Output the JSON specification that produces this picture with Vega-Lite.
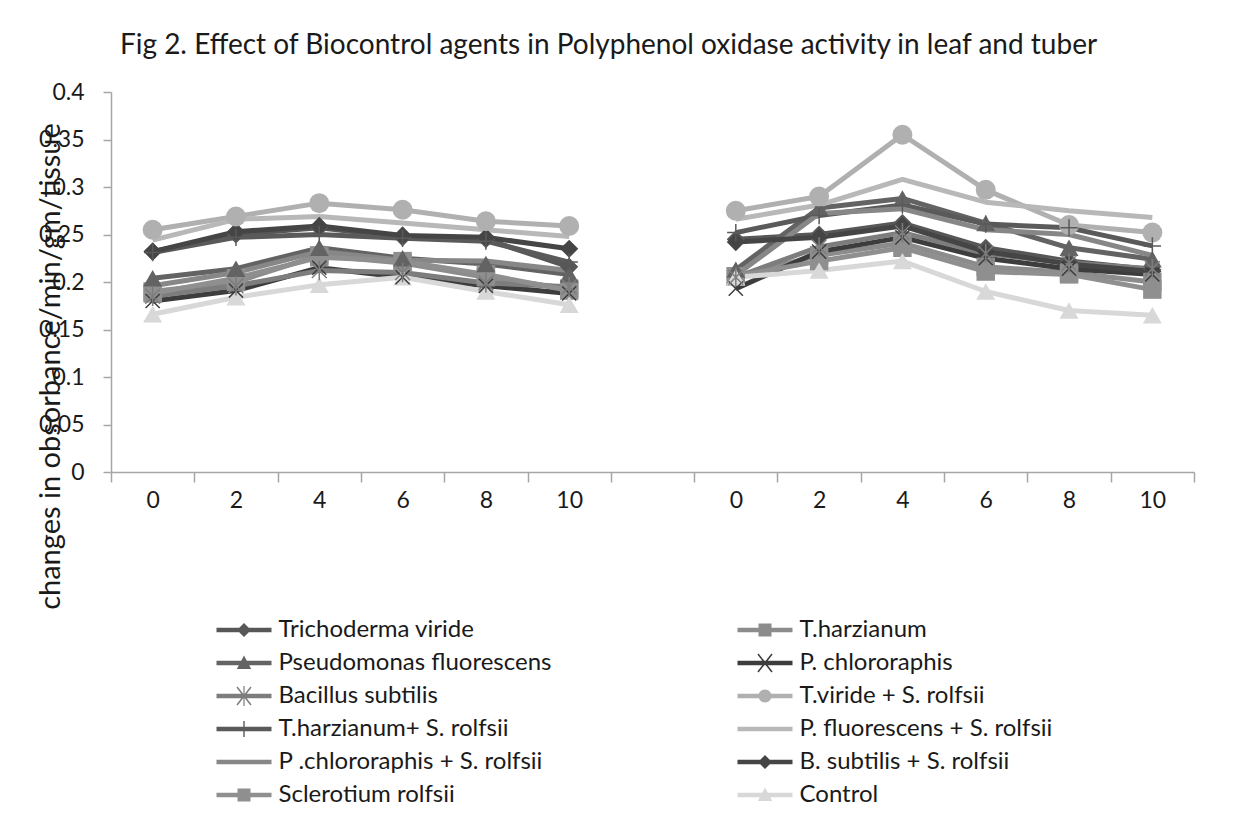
{
  "$schema": "https://vega.github.io/schema/vega-lite/v6.json",
  "width": 1083,
  "height": 380,
  "autosize": "none",
  "padding": {"left": 111, "top": 92, "right": 41, "bottom": 357},
  "background": "white",
  "config": {
    "view": {"stroke": null},
    "font": "Lato",
    "axis": {"grid": false, "domainColor": "#a6a6a6", "tickColor": "#a6a6a6", "domainWidth": 1.5, "tickWidth": 1.5, "labelColor": "#1a1a1a", "labelFont": "Lato", "labelFontSize": 23, "titleFont": "Lato", "titleFontWeight": "normal", "titleColor": "#1a1a1a"}
  },
  "title": {"text": "Fig  2.  Effect of Biocontrol agents in Polyphenol oxidase  activity in leaf and tuber", "anchor": "middle", "dx": -44, "offset": 21, "font": "Lato", "fontSize": 28, "fontWeight": "normal", "color": "#1a1a1a"},
  "data": {"values": [
    {"s":"Trichoderma viride","d":"L00","p":"leaf","v":0.232},{"s":"Trichoderma viride","d":"L02","p":"leaf","v":0.250},{"s":"Trichoderma viride","d":"L04","p":"leaf","v":0.257},{"s":"Trichoderma viride","d":"L06","p":"leaf","v":0.247},{"s":"Trichoderma viride","d":"L08","p":"leaf","v":0.245},{"s":"Trichoderma viride","d":"L10","p":"leaf","v":0.216},
    {"s":"Trichoderma viride","d":"T00","p":"tuber","v":0.245},{"s":"Trichoderma viride","d":"T02","p":"tuber","v":0.250},{"s":"Trichoderma viride","d":"T04","p":"tuber","v":0.262},{"s":"Trichoderma viride","d":"T06","p":"tuber","v":0.236},{"s":"Trichoderma viride","d":"T08","p":"tuber","v":0.222},{"s":"Trichoderma viride","d":"T10","p":"tuber","v":0.213},
    {"s":"T.harzianum","d":"L00","p":"leaf","v":0.190},{"s":"T.harzianum","d":"L02","p":"leaf","v":0.200},{"s":"T.harzianum","d":"L04","p":"leaf","v":0.228},{"s":"T.harzianum","d":"L06","p":"leaf","v":0.220},{"s":"T.harzianum","d":"L08","p":"leaf","v":0.205},{"s":"T.harzianum","d":"L10","p":"leaf","v":0.193},
    {"s":"T.harzianum","d":"T00","p":"tuber","v":0.206},{"s":"T.harzianum","d":"T02","p":"tuber","v":0.228},{"s":"T.harzianum","d":"T04","p":"tuber","v":0.241},{"s":"T.harzianum","d":"T06","p":"tuber","v":0.216},{"s":"T.harzianum","d":"T08","p":"tuber","v":0.210},{"s":"T.harzianum","d":"T10","p":"tuber","v":0.200},
    {"s":"Pseudomonas fluorescens","d":"L00","p":"leaf","v":0.204},{"s":"Pseudomonas fluorescens","d":"L02","p":"leaf","v":0.214},{"s":"Pseudomonas fluorescens","d":"L04","p":"leaf","v":0.236},{"s":"Pseudomonas fluorescens","d":"L06","p":"leaf","v":0.225},{"s":"Pseudomonas fluorescens","d":"L08","p":"leaf","v":0.219},{"s":"Pseudomonas fluorescens","d":"L10","p":"leaf","v":0.208},
    {"s":"Pseudomonas fluorescens","d":"T00","p":"tuber","v":0.213},{"s":"Pseudomonas fluorescens","d":"T02","p":"tuber","v":0.278},{"s":"Pseudomonas fluorescens","d":"T04","p":"tuber","v":0.288},{"s":"Pseudomonas fluorescens","d":"T06","p":"tuber","v":0.262},{"s":"Pseudomonas fluorescens","d":"T08","p":"tuber","v":0.236},{"s":"Pseudomonas fluorescens","d":"T10","p":"tuber","v":0.224},
    {"s":"P. chlororaphis","d":"L00","p":"leaf","v":0.180},{"s":"P. chlororaphis","d":"L02","p":"leaf","v":0.191},{"s":"P. chlororaphis","d":"L04","p":"leaf","v":0.215},{"s":"P. chlororaphis","d":"L06","p":"leaf","v":0.205},{"s":"P. chlororaphis","d":"L08","p":"leaf","v":0.196},{"s":"P. chlororaphis","d":"L10","p":"leaf","v":0.188},
    {"s":"P. chlororaphis","d":"T00","p":"tuber","v":0.193},{"s":"P. chlororaphis","d":"T02","p":"tuber","v":0.232},{"s":"P. chlororaphis","d":"T04","p":"tuber","v":0.247},{"s":"P. chlororaphis","d":"T06","p":"tuber","v":0.225},{"s":"P. chlororaphis","d":"T08","p":"tuber","v":0.214},{"s":"P. chlororaphis","d":"T10","p":"tuber","v":0.208},
    {"s":"Bacillus subtilis","d":"L00","p":"leaf","v":0.185},{"s":"Bacillus subtilis","d":"L02","p":"leaf","v":0.196},{"s":"Bacillus subtilis","d":"L04","p":"leaf","v":0.212},{"s":"Bacillus subtilis","d":"L06","p":"leaf","v":0.210},{"s":"Bacillus subtilis","d":"L08","p":"leaf","v":0.199},{"s":"Bacillus subtilis","d":"L10","p":"leaf","v":0.195},
    {"s":"Bacillus subtilis","d":"T00","p":"tuber","v":0.205},{"s":"Bacillus subtilis","d":"T02","p":"tuber","v":0.237},{"s":"Bacillus subtilis","d":"T04","p":"tuber","v":0.252},{"s":"Bacillus subtilis","d":"T06","p":"tuber","v":0.230},{"s":"Bacillus subtilis","d":"T08","p":"tuber","v":0.220},{"s":"Bacillus subtilis","d":"T10","p":"tuber","v":0.214},
    {"s":"T.viride + S.  rolfsii","d":"L00","p":"leaf","v":0.255},{"s":"T.viride + S.  rolfsii","d":"L02","p":"leaf","v":0.269},{"s":"T.viride + S.  rolfsii","d":"L04","p":"leaf","v":0.283},{"s":"T.viride + S.  rolfsii","d":"L06","p":"leaf","v":0.276},{"s":"T.viride + S.  rolfsii","d":"L08","p":"leaf","v":0.264},{"s":"T.viride + S.  rolfsii","d":"L10","p":"leaf","v":0.259},
    {"s":"T.viride + S.  rolfsii","d":"T00","p":"tuber","v":0.275},{"s":"T.viride + S.  rolfsii","d":"T02","p":"tuber","v":0.290},{"s":"T.viride + S.  rolfsii","d":"T04","p":"tuber","v":0.355},{"s":"T.viride + S.  rolfsii","d":"T06","p":"tuber","v":0.297},{"s":"T.viride + S.  rolfsii","d":"T08","p":"tuber","v":0.260},{"s":"T.viride + S.  rolfsii","d":"T10","p":"tuber","v":0.252},
    {"s":"T.harzianum+ S.  rolfsii","d":"L00","p":"leaf","v":0.231},{"s":"T.harzianum+ S.  rolfsii","d":"L02","p":"leaf","v":0.247},{"s":"T.harzianum+ S.  rolfsii","d":"L04","p":"leaf","v":0.250},{"s":"T.harzianum+ S.  rolfsii","d":"L06","p":"leaf","v":0.246},{"s":"T.harzianum+ S.  rolfsii","d":"L08","p":"leaf","v":0.243},{"s":"T.harzianum+ S.  rolfsii","d":"L10","p":"leaf","v":0.221},
    {"s":"T.harzianum+ S.  rolfsii","d":"T00","p":"tuber","v":0.252},{"s":"T.harzianum+ S.  rolfsii","d":"T02","p":"tuber","v":0.270},{"s":"T.harzianum+ S.  rolfsii","d":"T04","p":"tuber","v":0.281},{"s":"T.harzianum+ S.  rolfsii","d":"T06","p":"tuber","v":0.261},{"s":"T.harzianum+ S.  rolfsii","d":"T08","p":"tuber","v":0.257},{"s":"T.harzianum+ S.  rolfsii","d":"T10","p":"tuber","v":0.238},
    {"s":"P. fluorescens + S.  rolfsii","d":"L00","p":"leaf","v":0.244},{"s":"P. fluorescens + S.  rolfsii","d":"L02","p":"leaf","v":0.266},{"s":"P. fluorescens + S.  rolfsii","d":"L04","p":"leaf","v":0.269},{"s":"P. fluorescens + S.  rolfsii","d":"L06","p":"leaf","v":0.262},{"s":"P. fluorescens + S.  rolfsii","d":"L08","p":"leaf","v":0.255},{"s":"P. fluorescens + S.  rolfsii","d":"L10","p":"leaf","v":0.248},
    {"s":"P. fluorescens + S.  rolfsii","d":"T00","p":"tuber","v":0.266},{"s":"P. fluorescens + S.  rolfsii","d":"T02","p":"tuber","v":0.281},{"s":"P. fluorescens + S.  rolfsii","d":"T04","p":"tuber","v":0.308},{"s":"P. fluorescens + S.  rolfsii","d":"T06","p":"tuber","v":0.284},{"s":"P. fluorescens + S.  rolfsii","d":"T08","p":"tuber","v":0.275},{"s":"P. fluorescens + S.  rolfsii","d":"T10","p":"tuber","v":0.268},
    {"s":"P .chlororaphis + S. rolfsii","d":"L00","p":"leaf","v":0.196},{"s":"P .chlororaphis + S. rolfsii","d":"L02","p":"leaf","v":0.210},{"s":"P .chlororaphis + S. rolfsii","d":"L04","p":"leaf","v":0.232},{"s":"P .chlororaphis + S. rolfsii","d":"L06","p":"leaf","v":0.223},{"s":"P .chlororaphis + S. rolfsii","d":"L08","p":"leaf","v":0.222},{"s":"P .chlororaphis + S. rolfsii","d":"L10","p":"leaf","v":0.212},
    {"s":"P .chlororaphis + S. rolfsii","d":"T00","p":"tuber","v":0.207},{"s":"P .chlororaphis + S. rolfsii","d":"T02","p":"tuber","v":0.272},{"s":"P .chlororaphis + S. rolfsii","d":"T04","p":"tuber","v":0.277},{"s":"P .chlororaphis + S. rolfsii","d":"T06","p":"tuber","v":0.255},{"s":"P .chlororaphis + S. rolfsii","d":"T08","p":"tuber","v":0.250},{"s":"P .chlororaphis + S. rolfsii","d":"T10","p":"tuber","v":0.228},
    {"s":"B. subtilis + S. rolfsii","d":"L00","p":"leaf","v":0.232},{"s":"B. subtilis + S. rolfsii","d":"L02","p":"leaf","v":0.253},{"s":"B. subtilis + S. rolfsii","d":"L04","p":"leaf","v":0.259},{"s":"B. subtilis + S. rolfsii","d":"L06","p":"leaf","v":0.249},{"s":"B. subtilis + S. rolfsii","d":"L08","p":"leaf","v":0.247},{"s":"B. subtilis + S. rolfsii","d":"L10","p":"leaf","v":0.235},
    {"s":"B. subtilis + S. rolfsii","d":"T00","p":"tuber","v":0.242},{"s":"B. subtilis + S. rolfsii","d":"T02","p":"tuber","v":0.247},{"s":"B. subtilis + S. rolfsii","d":"T04","p":"tuber","v":0.259},{"s":"B. subtilis + S. rolfsii","d":"T06","p":"tuber","v":0.232},{"s":"B. subtilis + S. rolfsii","d":"T08","p":"tuber","v":0.219},{"s":"B. subtilis + S. rolfsii","d":"T10","p":"tuber","v":0.211},
    {"s":"Sclerotium rolfsii","d":"L00","p":"leaf","v":0.188},{"s":"Sclerotium rolfsii","d":"L02","p":"leaf","v":0.204},{"s":"Sclerotium rolfsii","d":"L04","p":"leaf","v":0.226},{"s":"Sclerotium rolfsii","d":"L06","p":"leaf","v":0.222},{"s":"Sclerotium rolfsii","d":"L08","p":"leaf","v":0.208},{"s":"Sclerotium rolfsii","d":"L10","p":"leaf","v":0.191},
    {"s":"Sclerotium rolfsii","d":"T00","p":"tuber","v":0.206},{"s":"Sclerotium rolfsii","d":"T02","p":"tuber","v":0.222},{"s":"Sclerotium rolfsii","d":"T04","p":"tuber","v":0.236},{"s":"Sclerotium rolfsii","d":"T06","p":"tuber","v":0.211},{"s":"Sclerotium rolfsii","d":"T08","p":"tuber","v":0.208},{"s":"Sclerotium rolfsii","d":"T10","p":"tuber","v":0.192},
    {"s":"Control","d":"L00","p":"leaf","v":0.166},{"s":"Control","d":"L02","p":"leaf","v":0.184},{"s":"Control","d":"L04","p":"leaf","v":0.197},{"s":"Control","d":"L06","p":"leaf","v":0.205},{"s":"Control","d":"L08","p":"leaf","v":0.190},{"s":"Control","d":"L10","p":"leaf","v":0.176},
    {"s":"Control","d":"T00","p":"tuber","v":0.205},{"s":"Control","d":"T02","p":"tuber","v":0.212},{"s":"Control","d":"T04","p":"tuber","v":0.222},{"s":"Control","d":"T06","p":"tuber","v":0.190},{"s":"Control","d":"T08","p":"tuber","v":0.170},{"s":"Control","d":"T10","p":"tuber","v":0.165}
  ]},
  "encoding": {
    "x": {"field": "d", "type": "ordinal",
      "scale": {"type": "band", "domain": ["L00","L02","L04","L06","L08","L10","M","T00","T02","T04","T06","T08","T10"], "paddingInner": 0, "paddingOuter": 0},
      "axis": {"title": null, "labelAngle": 0, "tickBand": "extent", "tickSize": 10, "labelPadding": 7, "labelExpr": "isString(datum.value) && length(datum.value) == 3 ? '' + toNumber(substring(datum.value, 1)) : ''"}},
    "y": {"field": "v", "type": "quantitative",
      "scale": {"domain": [0, 0.4], "nice": false},
      "axis": {"title": "changes in obsorbance/min/gm/tissue", "values": [0,0.05,0.1,0.15,0.2,0.25,0.3,0.35,0.4], "format": ".2~f", "tickSize": 8, "labelPadding": 19, "titleFontSize": 29, "titleAngle": -90, "titleX": -52, "titleY": 274, "titleAlign": "center", "titleBaseline": "alphabetic"}},
    "color": {"field": "s", "type": "nominal", "legend": null,
      "scale": {"domain": ["Trichoderma viride","T.harzianum","Pseudomonas fluorescens","P. chlororaphis","Bacillus subtilis","T.viride + S.  rolfsii","T.harzianum+ S.  rolfsii","P. fluorescens + S.  rolfsii","P .chlororaphis + S. rolfsii","B. subtilis + S. rolfsii","Sclerotium rolfsii","Control"],
        "range": ["#575757","#8c8c8c","#636363","#3d3d3d","#7d7d7d","#b0b0b0","#5a5a5a","#b8b8b8","#878787","#454545","#8f8f8f","#d8d8d8"]}}
  },
  "resolve": {"legend": {"color": "independent", "shape": "independent"}},
  "layer": [
    {"mark": {"type": "line", "strokeWidth": 5, "strokeJoin": "round"},
     "encoding": {"detail": {"field": "p", "type": "nominal"}}},
    {"transform": [{"filter": {"field": "s", "oneOf": ["Trichoderma viride","B. subtilis + S. rolfsii"]}}],
     "mark": {"type": "point", "filled": true, "opacity": 1, "shape": "diamond", "size": 330}},
    {"transform": [{"filter": {"field": "s", "oneOf": ["T.harzianum","Sclerotium rolfsii"]}}],
     "mark": {"type": "point", "filled": true, "opacity": 1, "shape": "square", "size": 340}},
    {"transform": [{"filter": {"field": "s", "oneOf": ["Pseudomonas fluorescens","Control"]}}],
     "mark": {"type": "point", "filled": true, "opacity": 1, "shape": "triangle-up", "size": 360}},
    {"transform": [{"filter": {"field": "s", "equal": "T.viride + S.  rolfsii"}}],
     "mark": {"type": "point", "filled": true, "opacity": 1, "shape": "circle", "size": 400}},
    {"transform": [{"filter": {"field": "s", "equal": "P. chlororaphis"}}],
     "mark": {"type": "point", "filled": false, "opacity": 1, "strokeWidth": 1.5, "shape": "M-1,-1L1,1M-1,1L1,-1", "size": 200}},
    {"transform": [{"filter": {"field": "s", "equal": "Bacillus subtilis"}}],
     "mark": {"type": "point", "filled": false, "opacity": 1, "strokeWidth": 1.5, "shape": "M-1,-1L1,1M-1,1L1,-1M0,-1.3L0,1.3", "size": 220}},
    {"transform": [{"filter": {"field": "s", "equal": "T.harzianum+ S.  rolfsii"}}],
     "mark": {"type": "point", "filled": false, "opacity": 1, "strokeWidth": 1.5, "shape": "M0,-1L0,1M-1,0L1,0", "size": 300}},
    {"transform": [{"filter": "false"}],
     "mark": {"type": "point", "filled": true, "opacity": 1},
     "encoding": {
       "color": {"field": "s", "type": "nominal",
         "legend": {"orient": "none", "legendX": 121, "legendY": 526, "columns": 2, "direction": "horizontal", "title": null, "padding": 0, "symbolSize": 400, "symbolStrokeWidth": 0, "symbolOpacity": 1, "labelOffset": 22.5, "rowPadding": 9, "columnPadding": 185, "labelFont": "Lato", "labelFontSize": 24, "labelColor": "#1a1a1a", "labelLimit": 0}},
       "shape": {"field": "s", "type": "nominal",
         "scale": {"domain": ["Trichoderma viride","T.harzianum","Pseudomonas fluorescens","P. chlororaphis","Bacillus subtilis","T.viride + S.  rolfsii","T.harzianum+ S.  rolfsii","P. fluorescens + S.  rolfsii","P .chlororaphis + S. rolfsii","B. subtilis + S. rolfsii","Sclerotium rolfsii","Control"],
           "range": [
             "M-2.75,-0.22H2.75V0.22H-2.75ZM0,-0.7L0.7,0L0,0.7L-0.7,0Z",
             "M-2.75,-0.22H2.75V0.22H-2.75ZM-0.65,-0.65H0.65V0.65H-0.65Z",
             "M-2.75,-0.22H2.75V0.22H-2.75ZM0,-0.75L0.72,0.6L-0.72,0.6Z",
             "M-2.75,-0.22H2.75V0.22H-2.75ZM-0.76,-0.85L-0.64,-0.95L0.76,0.85L0.64,0.95ZM-0.64,0.95L-0.76,0.85L0.64,-0.95L0.76,-0.85Z",
             "M-2.75,-0.22H2.75V0.22H-2.75ZM-0.76,-0.85L-0.64,-0.95L0.76,0.85L0.64,0.95ZM-0.64,0.95L-0.76,0.85L0.64,-0.95L0.76,-0.85ZM-0.06,-1H0.06V1H-0.06Z",
             "M-2.75,-0.22H2.75V0.22H-2.75ZM-0.65,0A0.65,0.65,0,1,1,0.65,0A0.65,0.65,0,1,1,-0.65,0Z",
             "M-2.75,-0.22H2.75V0.22H-2.75ZM-0.07,-0.8H0.07V0.8H-0.07Z",
             "M-2.75,-0.22H2.75V0.22H-2.75Z",
             "M-2.75,-0.22H2.75V0.22H-2.75Z",
             "M-2.75,-0.22H2.75V0.22H-2.75ZM0,-0.7L0.7,0L0,0.7L-0.7,0Z",
             "M-2.75,-0.22H2.75V0.22H-2.75ZM-0.65,-0.65H0.65V0.65H-0.65Z",
             "M-2.75,-0.22H2.75V0.22H-2.75ZM0,-0.75L0.72,0.6L-0.72,0.6Z"]},
         "legend": {"orient": "none", "legendX": 121, "legendY": 526, "columns": 2, "direction": "horizontal", "title": null, "padding": 0, "symbolSize": 400, "symbolStrokeWidth": 0, "symbolOpacity": 1, "labelOffset": 22.5, "rowPadding": 9, "columnPadding": 185, "labelFont": "Lato", "labelFontSize": 24, "labelColor": "#1a1a1a", "labelLimit": 0}}
     }}
  ]
}
